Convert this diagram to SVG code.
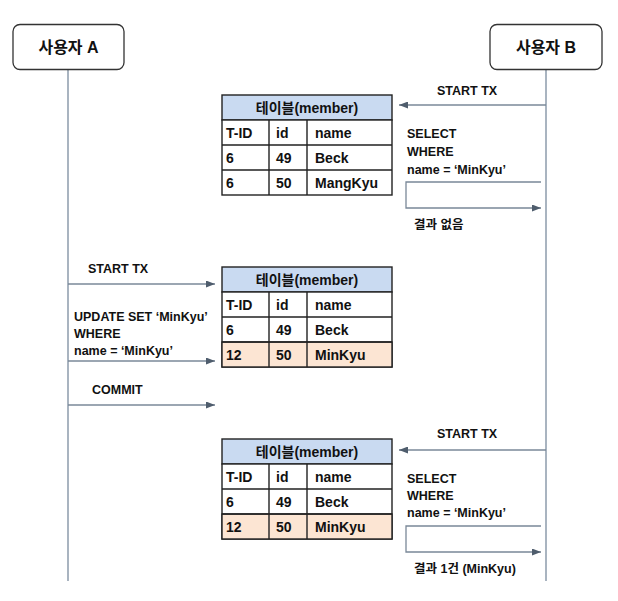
<svg xmlns="http://www.w3.org/2000/svg" width="618" height="601" viewBox="0 0 618 601">
<style>
text{font-family:"Liberation Sans","Noto Sans CJK KR",Arial,sans-serif;font-weight:bold;fill:#111}
.actor{fill:#fff;stroke:#333;stroke-width:1.3}
.life{stroke:#8d9bab;stroke-width:1.5;fill:none}
.msg{stroke:#7a8898;stroke-width:1.3;fill:none}
.lbl{font-size:12.5px}
.act{font-size:16px}
.tb{stroke:#222;stroke-width:1.4;fill:#fff}
.hd{fill:#c9daf1}
.hl{fill:#fce5d3}
.tt{font-size:14px}
</style>
<defs>
<marker id="ah" markerWidth="9" markerHeight="7" refX="9" refY="3.5" orient="auto" markerUnits="userSpaceOnUse">
<path d="M0,0 L9,3.5 L0,7 z" fill="#4f5d6d"/>
</marker>
</defs>
<rect width="618" height="601" fill="#fff"/>
<g id="connectors">
<line class="life" x1="68" y1="70" x2="68" y2="581"/>
<line class="life" x1="546" y1="70" x2="546" y2="581"/>
<line class="msg" x1="546" y1="105" x2="399" y2="105" marker-end="url(#ah)"/>
<polyline class="msg" points="541,182 406,182 406,208 541,208" marker-end="url(#ah)"/>
<line class="msg" x1="68" y1="284" x2="215" y2="284" marker-end="url(#ah)"/>
<line class="msg" x1="68" y1="361" x2="215" y2="361" marker-end="url(#ah)"/>
<line class="msg" x1="68" y1="405" x2="215" y2="405" marker-end="url(#ah)"/>
<line class="msg" x1="546" y1="450" x2="399" y2="450" marker-end="url(#ah)"/>
<polyline class="msg" points="541,526 406,526 406,552 541,552" marker-end="url(#ah)"/>
</g>
<g id="userA">
<rect class="actor" x="13" y="24.5" width="111" height="45" rx="7"/>
<text class="act" x="68.5" y="52.5" text-anchor="middle">사용자 A</text>
</g>
<g id="userB">
<rect class="actor" x="490" y="24.5" width="112" height="45" rx="7"/>
<text class="act" x="546" y="52.5" text-anchor="middle">사용자 B</text>
</g>
<g id="labels">
<text class="lbl" x="437" y="95">START TX</text>
<text class="lbl" x="407" y="138">SELECT</text>
<text class="lbl" x="407" y="156">WHERE</text>
<text class="lbl" x="407" y="173.5">name = ‘MinKyu’</text>
<text class="lbl" x="414" y="229">결과 없음</text>
<text class="lbl" x="88" y="273">START TX</text>
<text class="lbl" x="74" y="320.5">UPDATE SET ‘MinKyu’</text>
<text class="lbl" x="74" y="338">WHERE</text>
<text class="lbl" x="74" y="355">name = ‘MinKyu’</text>
<text class="lbl" x="92" y="394">COMMIT</text>
<text class="lbl" x="437" y="438">START TX</text>
<text class="lbl" x="407" y="482.5">SELECT</text>
<text class="lbl" x="407" y="500">WHERE</text>
<text class="lbl" x="407" y="517">name = ‘MinKyu’</text>
<text class="lbl" x="414" y="573">결과 1건 (MinKyu)</text>
</g>
<g id="table1">
<rect class="tb hd" x="222" y="95" width="170" height="25"/>
<rect class="tb" x="222" y="120" width="170" height="75"/>
<path class="tb" d="M222,145 H392 M222,170 H392 M269,120 V195 M307,120 V195"/>
<text class="tt" x="307" y="112.5" text-anchor="middle">테이블(member)</text>
<text class="tt" x="226" y="137.5">T-ID</text><text class="tt" x="276" y="137.5">id</text><text class="tt" x="315" y="137.5">name</text>
<text class="tt" x="226" y="162.5">6</text><text class="tt" x="276" y="162.5">49</text><text class="tt" x="315" y="162.5">Beck</text>
<text class="tt" x="226" y="187.5">6</text><text class="tt" x="276" y="187.5">50</text><text class="tt" x="315" y="187.5">MangKyu</text>
</g>
<g id="table2">
<rect class="tb hd" x="222" y="267" width="170" height="25"/>
<rect class="tb" x="222" y="292" width="170" height="75"/>
<rect class="tb hl" x="222" y="342" width="170" height="25"/>
<path class="tb" d="M222,317 H392 M222,342 H392 M269,292 V367 M307,292 V367"/>
<text class="tt" x="307" y="284.5" text-anchor="middle">테이블(member)</text>
<text class="tt" x="226" y="309.5">T-ID</text><text class="tt" x="276" y="309.5">id</text><text class="tt" x="315" y="309.5">name</text>
<text class="tt" x="226" y="334.5">6</text><text class="tt" x="276" y="334.5">49</text><text class="tt" x="315" y="334.5">Beck</text>
<text class="tt" x="226" y="359.5">12</text><text class="tt" x="276" y="359.5">50</text><text class="tt" x="315" y="359.5">MinKyu</text>
</g>
<g id="table3">
<rect class="tb hd" x="222" y="439" width="170" height="25"/>
<rect class="tb" x="222" y="464" width="170" height="75"/>
<rect class="tb hl" x="222" y="514" width="170" height="25"/>
<path class="tb" d="M222,489 H392 M222,514 H392 M269,464 V539 M307,464 V539"/>
<text class="tt" x="307" y="456.5" text-anchor="middle">테이블(member)</text>
<text class="tt" x="226" y="481.5">T-ID</text><text class="tt" x="276" y="481.5">id</text><text class="tt" x="315" y="481.5">name</text>
<text class="tt" x="226" y="506.5">6</text><text class="tt" x="276" y="506.5">49</text><text class="tt" x="315" y="506.5">Beck</text>
<text class="tt" x="226" y="531.5">12</text><text class="tt" x="276" y="531.5">50</text><text class="tt" x="315" y="531.5">MinKyu</text>
</g>
</svg>
